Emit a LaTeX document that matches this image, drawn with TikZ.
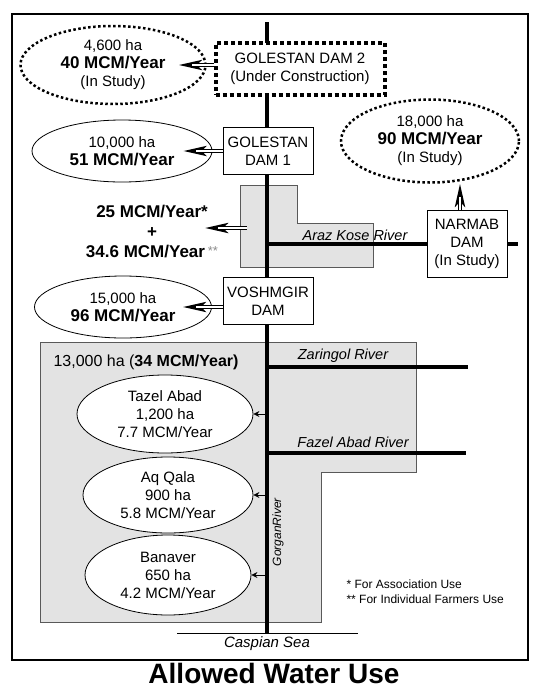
\documentclass[tikz,border=0pt]{standalone}
\usepackage{fontspec}
\setmainfont{Liberation Sans}
\usetikzlibrary{shapes.geometric, arrows.meta, calc}

\newcommand{\caudal}[1]{{\fontsize{17}{18}\selectfont\bfseries #1}}

\begin{document}
\begin{tikzpicture}[
    x=1pt, y=-1pt,
    presa/.style = {
        rectangle, draw=black, line width=0.8pt, fill=white,
        align=center, inner sep=0pt,
        font=\fontsize{15}{18}\selectfont
    },
    presaobra/.style = {
        presa, line width=4pt, dash pattern=on 4pt off 3pt
    },
    cuota/.style = {
        ellipse, draw=black, line width=0.8pt, fill=white,
        align=center, inner sep=0pt,
        font=\fontsize{15}{18}\selectfont
    },
    cuotaestudio/.style = {
        cuota, line width=2.5pt, dash pattern=on 2.5pt off 2.5pt
    },
    rio/.style = {line width=3.5pt},
    zona/.style = {draw=black!65, line width=0.6pt, fill=black!11},
    etiqrio/.style = {font=\fontsize{14.5}{17}\selectfont\itshape},
    nota/.style = {anchor=west, font=\fontsize{12}{15}\selectfont},
    flecha/.style = {-{Stealth[length=23pt, width=10pt, inset=5pt]},
        draw=black, line width=3.6pt},
    canal/.style = {draw=white, line width=1.5pt, shorten >=13pt},
    flechita/.style = {-{Stealth[length=6pt, width=6pt, inset=2pt]}, line width=0.8pt}
]

\useasboundingbox (0,0) rectangle (537,689);

% Marco
\draw[line width=2.5pt] (12,14) rectangle (528,660);

% Zonas regadas
\draw[zona] (240,185) -- (297,185) -- (297,223) -- (373,223)
    -- (373,267) -- (240,267) -- cycle;
\draw[zona] (40,342) -- (416,342) -- (416,472) -- (321,472)
    -- (321,622) -- (40,622) -- cycle;

% Rio Gorgan
\coordinate (nacimiento) at (267,22);
\coordinate (mar) at (267,633);
\draw[rio, line width=4.5pt] (nacimiento) -- (mar);
\draw[line width=0.8pt] (177,633) -- (358,633);

% Presa 2
\node[presaobra, minimum width=169pt, minimum height=52pt] (golestan2) at (300,69)
    {GOLESTAN DAM 2\\(Under Construction)};
\node[cuotaestudio, minimum width=185pt, minimum height=78pt] (estudio1) at (113,65)
    {4,600 ha\\\caudal{40 MCM/Year}\\(In Study)};
\coordinate (punta1) at ($(estudio1.east)+(-28,0)$);

% Presa 1
\node[presa, minimum width=90pt, minimum height=47pt] (golestan1) at (268,151)
    {GOLESTAN\\DAM 1};
\node[cuota, minimum width=180pt, minimum height=62pt] (golestan1riego) at (122,151)
    {10,000 ha\\\caudal{51 MCM/Year}};
\coordinate (punta2) at ($(golestan1riego.east)+(-29,0)$);

% Araz Kose
\node[align=center, font=\fontsize{17}{20}\selectfont\bfseries] (araz) at (152,232)
    {25 MCM/Year*\\+\\34.6 MCM/Year\,\raisebox{2pt}{\fontsize{13}{13}\selectfont\mdseries\color{black!45}**}};
\coordinate (arazsal) at (247,228);
\coordinate (arazlleg) at (205,228);

% Presa Narmab
\node[presa, minimum width=80pt, minimum height=67pt] (narmab) at (467,244)
    {NARMAB\\DAM\\(In Study)};
\node[cuotaestudio, minimum width=178pt, minimum height=83pt] (narmabriego) at (430,141)
    {18,000 ha\\\caudal{90 MCM/Year}\\(In Study)};
\coordinate (narmabsal) at ($(narmab.north)+(-7,0)$);
\coordinate (arazfin) at (518,244);

% Presa Voshmgir
\node[presa, minimum width=90pt, minimum height=47pt] (voshmgir) at (268,301)
    {VOSHMGIR\\DAM};
\node[cuota, minimum width=177pt, minimum height=62pt] (voshmgirriego) at (123,307)
    {15,000 ha\\\caudal{96 MCM/Year}};
\coordinate (punta3) at ($(voshmgirriego.east)+(-29,0)$);

% Zona baja
\node[anchor=west, font=\fontsize{16}{19}\selectfont] (zonabaja) at (50,362)
    {13,000 ha (\textbf{34 MCM/Year)}};
\node[cuota, minimum width=176pt, minimum height=78pt] (tazel) at (165,414)
    {Tazel Abad\\1,200 ha\\7.7 MCM/Year};
\node[cuota, minimum width=170pt, minimum height=76pt] (aqqala) at (168,495)
    {Aq Qala\\900 ha\\5.8 MCM/Year};
\node[cuota, minimum width=166pt, minimum height=80pt] (banaver) at (168,575)
    {Banaver\\650 ha\\4.2 MCM/Year};

% Afluentes
\coordinate (zaringolfin) at (468,367);
\coordinate (fazelfin) at (466,453);
\draw[rio] (narmab.west -| nacimiento) -- (narmab.west);
\draw[rio] (narmab.east) -- (arazfin);
\draw[rio] (zaringolfin -| nacimiento) -- (zaringolfin);
\draw[rio] (fazelfin -| nacimiento) -- (fazelfin);

% Etiquetas
\node[etiqrio] (lblaraz) at (355,235) {Araz Kose River};
\node[etiqrio] (lblzaringol) at (343,356) {Zaringol River};
\node[etiqrio] (lblfazel) at (353,442) {Fazel Abad River};
\node[etiqrio, font=\fontsize{12}{14}\selectfont\itshape, rotate=90] (lblgorgan) at (278,532)
    {GorganRiver};
\node[etiqrio, font=\fontsize{15}{17}\selectfont\itshape] (lblcaspio) at (267,644) {Caspian Sea};
\node[nota] (nota1) at (343,584) {* For Association Use};
\node[nota] (nota2) at (343,599) {** For Individual Farmers Use};

% Titulo
\node[font=\fontsize{28}{30}\selectfont\bfseries] (titulo) at (274,673) {Allowed Water Use};

% Flechas
\draw[flecha] (golestan2.west |- estudio1.east) -- (punta1);
\draw[canal]  (golestan2.west |- estudio1.east) -- (punta1);
\draw[flecha] (golestan1.west) -- (punta2);
\draw[canal]  (golestan1.west) -- (punta2);
\draw[flecha] (arazsal) -- (arazlleg);
\draw[canal]  (arazsal) -- (arazlleg);
\draw[flecha] (narmabsal) -- (narmabsal |- narmabriego.south);
\draw[canal]  (narmabsal) -- (narmabsal |- narmabriego.south);
\draw[flecha] (voshmgir.west |- voshmgirriego.east) -- (punta3);
\draw[canal]  (voshmgir.west |- voshmgirriego.east) -- (punta3);
\draw[flechita] (tazel.east -| nacimiento) -- (tazel.east);
\draw[flechita] (aqqala.east -| nacimiento) -- (aqqala.east);
\draw[flechita] (banaver.east -| nacimiento) -- (banaver.east);

\end{tikzpicture}
\end{document}
